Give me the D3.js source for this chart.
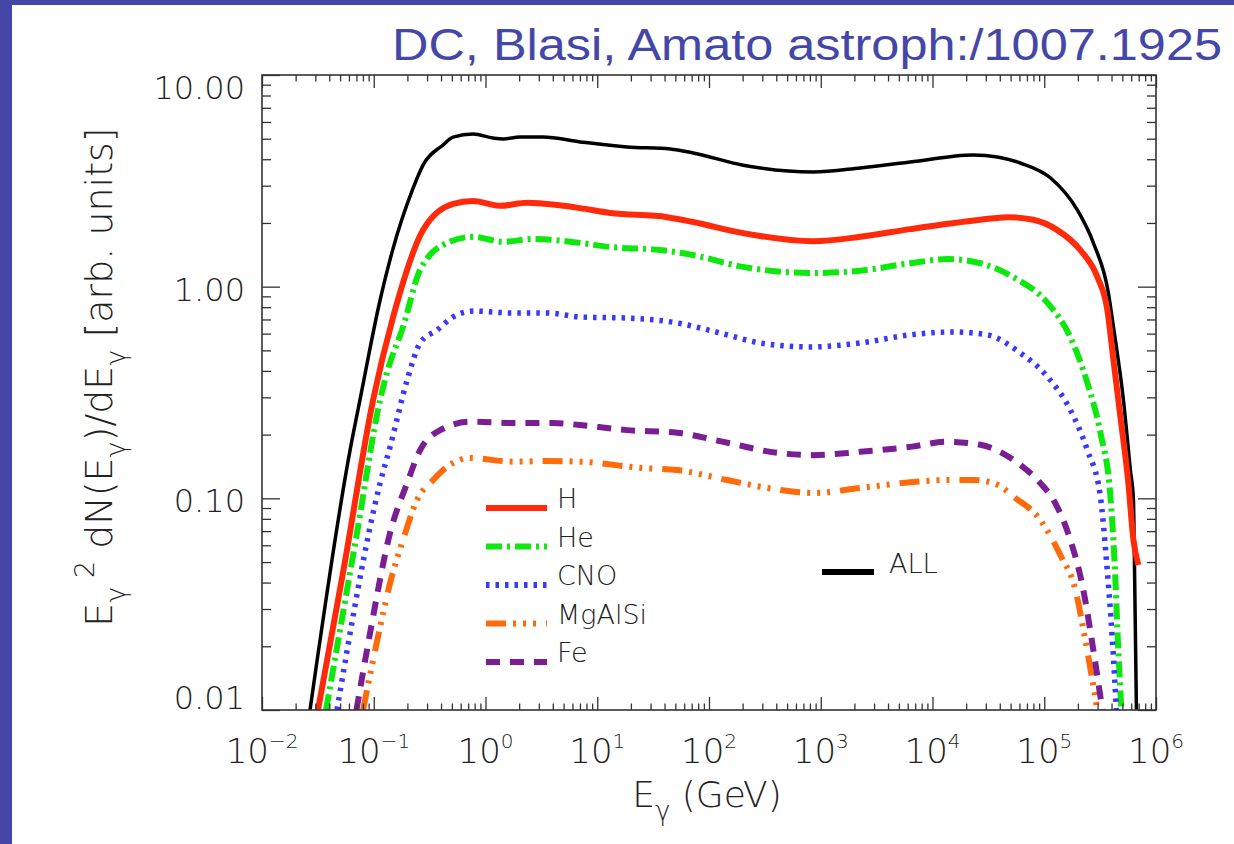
<!DOCTYPE html>
<html>
<head>
<meta charset="utf-8">
<script src="https://cdn.jsdelivr.net/npm/d3@7"></script>
<style>
  body { margin: 0; background: #fff; }
  text.lbl { font-family: "DejaVu Sans", sans-serif; font-weight: 200; fill: #222; }
  .tick line { stroke: #333; stroke-width: 1.3; }
</style>
</head>
<body>
<script>
// E (GeV) and E^2 dN/dE (arb. units)
var allE = [0.0269, 0.0614, 0.0753, 0.114, 0.146, 0.225, 0.276, 0.417, 0.513, 0.774, 1.17, 1.44, 2.04, 3.28, 7.03, 18.5, 45, 72.3, 202, 857, 2260, 6320, 23200, 38000, 61100, 1.14e5, 1.98e5, 2.75e5, 3.75e5, 4.16e5, 5.11e5, 5.90e5, 6.28e5, 6.41e5, 6.68e5];
var allY = [0.01, 0.169, 0.292, 0.865, 1.46, 2.92, 3.75, 4.67, 5.09, 5.26, 5.04, 4.99, 5.09, 5.09, 4.83, 4.57, 4.47, 4.28, 3.75, 3.48, 3.64, 3.88, 4.19, 4.10, 3.84, 3.26, 2.30, 1.61, 0.933, 0.646, 0.292, 0.136, 0.0983, 0.0512, 0.01];

var hE = [0.0317, 0.0542, 0.0987, 0.149, 0.276, 0.513, 0.774, 1.35, 2.36, 4.38, 7.03, 13.1, 42.3, 72.3, 202, 857, 2260, 6320, 26800, 46800, 79800, 1.31e5, 2.10e5, 2.99e5, 3.67e5, 4.16e5, 4.80e5, 5.66e5, 6.28e5, 6.95e5];
var hY = [0.01, 0.0474, 0.292, 0.719, 1.85, 2.46, 2.54, 2.41, 2.49, 2.43, 2.35, 2.23, 2.13, 2.02, 1.79, 1.64, 1.72, 1.87, 2.07, 2.13, 2.07, 1.85, 1.49, 1.11, 0.776, 0.451, 0.243, 0.118, 0.0637, 0.0484];

var heE = [0.0374, 0.0708, 0.114, 0.131, 0.183, 0.260, 0.453, 0.774, 1.44, 2.67, 7.03, 13.1, 36.6, 72.3, 202, 857, 2260, 6320, 13600, 26800, 52800, 1.07e5, 1.71e5, 2.43e5, 3.18e5, 3.91e5, 4.25e5, 4.60e5, 4.90e5];
var heY = [0.01, 0.0687, 0.292, 0.391, 0.646, 1.20, 1.61, 1.72, 1.63, 1.68, 1.61, 1.54, 1.49, 1.41, 1.24, 1.16, 1.19, 1.29, 1.35, 1.29, 1.11, 0.838, 0.578, 0.351, 0.204, 0.102, 0.0512, 0.0192, 0.01];

var cnoE = [0.0469, 0.114, 0.140, 0.199, 0.260, 0.369, 0.513, 0.774, 1.77, 3.56, 7.03, 18.5, 51.9, 126, 287, 805, 2260, 6320, 15400, 31000, 61100, 1.07e5, 1.71e5, 2.43e5, 3.18e5, 3.60e5, 4.07e5, 4.42e5];
var cnoY = [0.01, 0.118, 0.175, 0.362, 0.542, 0.624, 0.719, 0.767, 0.751, 0.751, 0.719, 0.711, 0.674, 0.604, 0.542, 0.519, 0.542, 0.592, 0.611, 0.592, 0.486, 0.375, 0.262, 0.169, 0.102, 0.0512, 0.0214, 0.01];

var mgE = [0.0802, 0.114, 0.140, 0.183, 0.244, 0.340, 0.453, 0.728, 1.77, 3.56, 7.03, 25.8, 51.9, 146, 408, 857, 2260, 6320, 13600, 23200, 38000, 52800, 92200, 1.39e5, 1.90e5, 2.33e5, 2.99e5];
var mgY = [0.01, 0.0247, 0.0398, 0.0637, 0.0983, 0.122, 0.141, 0.155, 0.149, 0.150, 0.149, 0.139, 0.136, 0.122, 0.110, 0.106, 0.112, 0.119, 0.122, 0.122, 0.116, 0.102, 0.079, 0.0541, 0.0369, 0.0214, 0.01];

var feE = [0.0700, 0.0927, 0.140, 0.199, 0.260, 0.393, 0.728, 1.77, 4.03, 7.03, 18.5, 51.9, 146, 408, 857, 2260, 6320, 13600, 26800, 52800, 92200, 1.21e5, 1.71e5, 2.19e5, 2.75e5, 3.31e5];
var feY = [0.01, 0.0231, 0.0687, 0.118, 0.169, 0.210, 0.230, 0.227, 0.227, 0.222, 0.210, 0.204, 0.183, 0.164, 0.160, 0.166, 0.175, 0.185, 0.179, 0.152, 0.118, 0.0983, 0.0637, 0.0390, 0.0192, 0.01];

var xDecades = [-2, -1, 0, 1, 2, 3, 4, 5, 6];
var yTicks = [0.01, 0.1, 1, 10];

var series = [
    { name: "ALL",    E: allE, Y: allY, color: "#000000", width: 3.5, dash: null },
    { name: "H",      E: hE,   Y: hY,   color: "#ff2a0a", width: 6,   dash: null },
    { name: "He",     E: heE,  Y: heY,  color: "#0ee80e", width: 6,   dash: "16,5,3,5" },
    { name: "CNO",    E: cnoE, Y: cnoY, color: "#3838ff", width: 5.5, dash: "3.5,6" },
    { name: "MgAlSi", E: mgE,  Y: mgY,  color: "#ff6a0a", width: 6,   dash: "20,7,3,7,3,7,3,10" },
    { name: "Fe",     E: feE,  Y: feY,  color: "#7a1e94", width: 6,   dash: "14,10" }
];

(function() {
var width = 1234, height = 844;
var pLeft = 262, pRight = 1156, pTop = 75, pBottom = 710;

var svg = d3.select("body").append("svg")
    .attr("width", width)
    .attr("height", height);

// slide frame
svg.append("rect").attr("x", 0).attr("y", 0).attr("width", width).attr("height", 5).attr("fill", "#4447a8");
svg.append("rect").attr("x", 0).attr("y", 0).attr("width", 12).attr("height", height).attr("fill", "#4447a8");

svg.append("text")
    .attr("x", 392).attr("y", 60)
    .attr("textLength", 830).attr("lengthAdjust", "spacingAndGlyphs")
    .style("font-family", "'Liberation Sans', Arial, sans-serif")
    .style("font-size", "44px")
    .attr("fill", "#4447a8")
    .text("DC, Blasi, Amato astroph:/1007.1925");

var x = d3.scaleLog().domain([1e-2, 1e6]).range([pLeft, pRight]);
var y = d3.scaleLog().domain([0.01, 10]).range([pBottom, pTop]);

// minor ticks 2..9 per decade
var xMinor = [], yMinor = [];
xDecades.slice(0, -1).forEach(function(d) {
    for (var k = 2; k < 10; k++) xMinor.push(k * Math.pow(10, d));
});
[-2, -1, 0].forEach(function(d) {
    for (var k = 2; k < 10; k++) yMinor.push(k * Math.pow(10, d));
});
var xMajor = xDecades.map(function(d) { return Math.pow(10, d); });

svg.append("clipPath").attr("id", "plot")
  .append("rect").attr("x", pLeft).attr("y", pTop).attr("width", pRight - pLeft).attr("height", pBottom - pTop);

var line = d3.line()
    .x(function(d) { return x(d[0]); })
    .y(function(d) { return y(d[1]); })
    .curve(d3.curveMonotoneX);

var curves = svg.append("g").attr("clip-path", "url(#plot)");
series.forEach(function(s) {
    curves.append("path")
        .datum(s.E.map(function(e, i) { return [e, s.Y[i]]; }))
        .attr("d", line)
        .attr("fill", "none")
        .attr("stroke", s.color)
        .attr("stroke-width", s.width)
        .attr("stroke-dasharray", s.dash)
        .attr("stroke-linejoin", "round");
});

// axes, ticks point inward on all four sides
function strip(g) { g.select(".domain").remove(); g.selectAll("text").remove(); }
svg.append("g").attr("transform", "translate(0," + pBottom + ")").call(d3.axisBottom(x).tickValues(xMajor).tickSize(-13)).call(strip);
svg.append("g").attr("transform", "translate(0," + pBottom + ")").call(d3.axisBottom(x).tickValues(xMinor).tickSize(-6.5)).call(strip);
svg.append("g").attr("transform", "translate(0," + pTop + ")").call(d3.axisTop(x).tickValues(xMajor).tickSize(-13)).call(strip);
svg.append("g").attr("transform", "translate(0," + pTop + ")").call(d3.axisTop(x).tickValues(xMinor).tickSize(-6.5)).call(strip);
svg.append("g").attr("transform", "translate(" + pLeft + ",0)").call(d3.axisLeft(y).tickValues(yTicks).tickSize(-18)).call(strip);
svg.append("g").attr("transform", "translate(" + pLeft + ",0)").call(d3.axisLeft(y).tickValues(yMinor).tickSize(-9)).call(strip);
svg.append("g").attr("transform", "translate(" + pRight + ",0)").call(d3.axisRight(y).tickValues(yTicks).tickSize(-18)).call(strip);
svg.append("g").attr("transform", "translate(" + pRight + ",0)").call(d3.axisRight(y).tickValues(yMinor).tickSize(-9)).call(strip);

svg.append("rect")
    .attr("x", pLeft).attr("y", pTop).attr("width", pRight - pLeft).attr("height", pBottom - pTop)
    .attr("fill", "none").attr("stroke", "#333").attr("stroke-width", 1.6);

// y tick labels (end labels are pulled inside the range)
var fmt = d3.format(".2f");
yTicks.forEach(function(v, i) {
    var shift = i === 0 ? -12 : (i === yTicks.length - 1 ? 13 : 3);
    svg.append("text").attr("class", "lbl")
        .attr("x", pLeft - 17).attr("y", y(v) + shift + 11)
        .attr("text-anchor", "end")
        .style("font-size", "32px")
        .text(fmt(v));
});

// x tick labels 10^n
xDecades.forEach(function(d) {
    var t = svg.append("text").attr("class", "lbl")
        .attr("x", x(Math.pow(10, d))).attr("y", 763)
        .attr("text-anchor", "middle")
        .style("font-size", "34px");
    t.append("tspan").text("10");
    t.append("tspan").attr("dy", -15).style("font-size", "20px").text(d < 0 ? "\u2212" + (-d) : d);
});

// axis titles
var xt = svg.append("text").attr("class", "lbl")
    .attr("x", 707).attr("y", 807)
    .attr("text-anchor", "middle")
    .style("font-size", "36px");
xt.append("tspan").text("E");
xt.append("tspan").attr("dy", 13).style("font-size", "26px").text("\u03b3");
xt.append("tspan").attr("dy", -13).text(" (GeV)");

var yt = svg.append("text").attr("class", "lbl")
    .attr("transform", "translate(112,377) rotate(-90)")
    .attr("text-anchor", "middle")
    .style("font-size", "38px");
yt.append("tspan").text("E");
yt.append("tspan").attr("dy", 13).style("font-size", "27px").text("\u03b3");
yt.append("tspan").attr("dy", -31).style("font-size", "27px").text(" 2");
yt.append("tspan").attr("dy", 18).text(" dN(E");
yt.append("tspan").attr("dy", 13).style("font-size", "27px").text("\u03b3");
yt.append("tspan").attr("dy", -13).text(")/dE");
yt.append("tspan").attr("dy", 13).style("font-size", "27px").text("\u03b3");
yt.append("tspan").attr("dy", -13).text(" [arb. units]");

// legend
var legX = 486, legY = 508, legStep = 38.5;
series.slice(1).forEach(function(s, i) {
    var ly = legY + i * legStep;
    svg.append("line")
        .attr("x1", legX).attr("x2", legX + 61).attr("y1", ly).attr("y2", ly)
        .attr("stroke", s.color).attr("stroke-width", 6)
        .attr("stroke-dasharray", s.dash);
    svg.append("text").attr("class", "lbl")
        .attr("x", legX + 71).attr("y", ly)
        .style("font-size", "27px")
        .text(s.name);
});
var all = series[0];
svg.append("line")
    .attr("x1", 822).attr("x2", 874).attr("y1", 572).attr("y2", 572)
    .attr("stroke", all.color).attr("stroke-width", 6);
svg.append("text").attr("class", "lbl")
    .attr("x", 889).attr("y", 573)
    .style("font-size", "27px")
    .text(all.name);
})();
</script>
</body>
</html>
